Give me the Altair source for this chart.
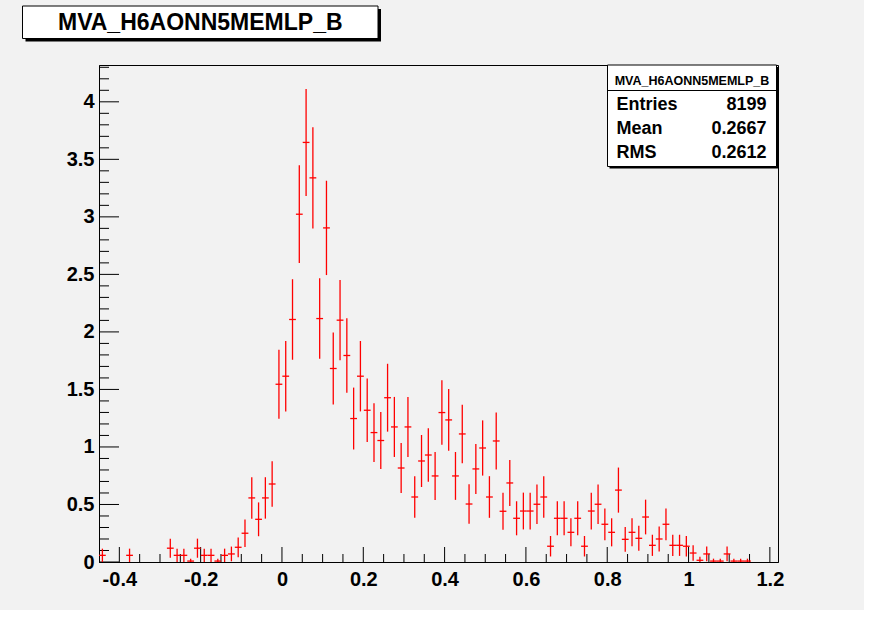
import altair as alt
import pandas as pd

# ---------------- data ----------------
XMIN, XMAX = -0.45, 1.22
NBINS = 100
YMAX = 4.32

bin_values = [
    0.058, 0, 0, 0, 0.058, 0, 0, 0, 0, 0,
    0.12, 0.058, 0.058, 0.008, 0.12, 0.058, 0.058, 0.008, 0.058, 0.07,
    0.128, 0.25, 0.557, 0.371, 0.557, 0.678, 1.545, 1.615, 2.108, 3.023,
    3.647, 3.339, 2.116, 2.904, 1.682, 2.102, 1.795, 1.247, 1.615, 1.319,
    1.125, 1.056, 1.428, 1.174, 0.817, 1.174, 0.565, 0.878, 0.93, 0.748,
    1.299, 1.235, 0.748, 1.113, 0.504, 0.809, 0.991, 0.565, 1.052, 0.441,
    0.687, 0.38, 0.443, 0.443, 0.502, 0.565, 0.137, 0.38, 0.38, 0.258,
    0.38, 0.137, 0.443, 0.502, 0.328, 0.258, 0.625, 0.197, 0.258, 0.206,
    0.391, 0.145, 0.2, 0.328, 0.145, 0.145, 0.137, 0.078, 0.015, 0.07,
    0.008, 0.008, 0.07, 0.008, 0.008, 0.008, 0, 0, 0, 0,
]
bin_errors = [
    0.058, 0, 0, 0, 0.058, 0, 0, 0, 0, 0,
    0.083, 0.058, 0.058, 0.021, 0.083, 0.058, 0.058, 0.021, 0.058, 0.064,
    0.086, 0.12, 0.18, 0.147, 0.18, 0.198, 0.299, 0.306, 0.35, 0.425,
    0.465, 0.44, 0.35, 0.41, 0.312, 0.349, 0.323, 0.269, 0.306, 0.277,
    0.255, 0.247, 0.295, 0.261, 0.218, 0.261, 0.181, 0.226, 0.232, 0.208,
    0.28, 0.268, 0.208, 0.254, 0.171, 0.217, 0.24, 0.181, 0.247, 0.16,
    0.2, 0.148, 0.16, 0.16, 0.171, 0.181, 0.089, 0.148, 0.148, 0.122,
    0.148, 0.089, 0.16, 0.171, 0.138, 0.122, 0.196, 0.107, 0.122, 0.109,
    0.151, 0.092, 0.108, 0.138, 0.092, 0.092, 0.089, 0.067, 0.03, 0.064,
    0.021, 0.021, 0.064, 0.021, 0.021, 0.021, 0, 0, 0, 0,
]

x_labels = [-0.4, -0.2, 0, 0.2, 0.4, 0.6, 0.8, 1.0, 1.2]
x_minor = [-0.35, -0.3, -0.25, -0.15, -0.1, -0.05, 0.05, 0.1, 0.15, 0.25, 0.3,
           0.35, 0.45, 0.5, 0.55, 0.65, 0.7, 0.75, 0.85, 0.9, 0.95, 1.05,
           1.1, 1.15]
y_labels = [0, 0.5, 1, 1.5, 2, 2.5, 3, 3.5, 4]
y_minor = [0.1, 0.2, 0.3, 0.4, 0.6, 0.7, 0.8, 0.9, 1.1, 1.2, 1.3, 1.4, 1.6,
           1.7, 1.8, 1.9, 2.1, 2.2, 2.3, 2.4, 2.6, 2.7, 2.8, 2.9, 3.1, 3.2,
           3.3, 3.4, 3.6, 3.7, 3.8, 3.9, 4.1, 4.2, 4.3]

hist_name = "MVA_H6AONN5MEMLP_B"
stat_labels = ["Entries", "Mean", "RMS"]
stat_values = ["8199", "0.2667", "0.2612"]

# ---------------- layout ----------------
W, H = 679, 497
FONT = "Liberation Sans"
BG = "#f2f2f2"

bw = (XMAX - XMIN) / NBINS
rows = []
for i, (v, e) in enumerate(zip(bin_values, bin_errors)):
    lo = XMIN + i * bw
    rows.append(dict(lo=lo, hi=lo + bw, c=lo + bw / 2, v=v,
                     ylo=max(v - e, 0), yhi=v + e))
hist = pd.DataFrame(rows)

xs = alt.Scale(domain=[XMIN, XMAX], nice=False, zero=False)
ys = alt.Scale(domain=[0, YMAX], nice=False, zero=True)

xaxis = alt.Axis(values=x_labels, tickSize=0, grid=False, title=None,
                 labelFont=FONT, labelFontSize=20, labelFontWeight="bold",
                 labelColor="black", labelPadding=7, labelFlush=False,
                 labelOverlap=False, domainColor="black",
                 labelExpr="datum.value < 0 ? '-' + format(-datum.value, '~g') : format(datum.value, '~g')")
yaxis = alt.Axis(values=y_labels, tickSize=0, grid=False, title=None,
                 labelFont=FONT, labelFontSize=20, labelFontWeight="bold",
                 labelColor="black", labelPadding=5, labelFlush=False,
                 labelOverlap=False, domainColor="black",
                 labelExpr="format(datum.value, '~g')")

base = alt.Chart(hist).transform_filter("datum.v > 0")

hbars = base.mark_rule(color="#ff0000", strokeWidth=1.3).encode(
    x=alt.X("lo:Q", scale=xs, axis=xaxis), x2="hi:Q",
    y=alt.Y("v:Q", scale=ys, axis=yaxis))
vbars = base.mark_rule(color="#ff0000", strokeWidth=1.3).encode(
    x=alt.X("c:Q", scale=xs), y=alt.Y("ylo:Q", scale=ys), y2="yhi:Q")

def xticks(vals, length):
    return alt.Chart(pd.DataFrame({"t": vals})).mark_rule(
        color="black", strokeWidth=1).encode(
        x=alt.X("t:Q", scale=xs), y=alt.value(H), y2=alt.value(H - length))

def yticks(vals, length):
    return alt.Chart(pd.DataFrame({"t": vals})).mark_rule(
        color="black", strokeWidth=1).encode(
        y=alt.Y("t:Q", scale=ys), x=alt.value(0), x2=alt.value(length))

one = pd.DataFrame({"a": [0]})

def rect(x1, y1, x2, y2, fill, stroke=None):
    kw = dict(fill=fill)
    if stroke:
        kw.update(stroke=stroke, strokeWidth=1)
    return alt.Chart(one).mark_rect(**kw).encode(
        x=alt.value(x1), x2=alt.value(x2), y=alt.value(y1), y2=alt.value(y2))

def text(s, x, y, size, align="left"):
    return alt.Chart(one).mark_text(
        text=s, font=FONT, fontSize=size, fontWeight="bold", color="black",
        align=align, baseline="middle").encode(x=alt.value(x), y=alt.value(y))

# title box (top-left)
tb = [-76.5, -59, 279, -26.5]
title_layers = [
    rect(tb[0] + 3, tb[1] + 3, tb[2] + 3, tb[3] + 3, "black"),
    rect(tb[0], tb[1], tb[2], tb[3], "white", "black"),
    text(hist_name, (tb[0] + tb[2]) / 2, (tb[1] + tb[3]) / 2 + 1, 23, "center"),
]

# stats box (top-right)
sb = [508.5, 0, 677.5, 101.5]
stat_layers = [
    rect(sb[0] + 2, sb[1] + 2, sb[2] + 2, sb[3] + 2, "black"),
    rect(sb[0], sb[1], sb[2], sb[3], "white", "black"),
    alt.Chart(one).mark_rule(color="black", strokeWidth=1).encode(
        x=alt.value(sb[0]), x2=alt.value(sb[2]), y=alt.value(25.5)),
    text(hist_name, (sb[0] + sb[2]) / 2, 15.5, 12.5, "center"),
]
for k, (lab, val) in enumerate(zip(stat_labels, stat_values)):
    yy = 39.5 + k * 24.2
    stat_layers.append(text(lab, sb[0] + 9, yy, 18, "left"))
    stat_layers.append(text(val, sb[2] - 10, yy, 18, "right"))

chart = alt.layer(
    xticks(x_minor, 8), xticks(x_labels, 15),
    yticks(y_minor, 10), yticks(y_labels, 20),
    hbars, vbars,
    *title_layers, *stat_layers,
).properties(
    width=W, height=H,
    autosize=alt.AutoSizeParams(type="none"),
    padding={"left": 99, "top": 65, "right": 86, "bottom": 48},
    background=BG,
).configure_view(stroke="black", strokeWidth=1, fill=BG)

chart.save("out.html", embed_options={"renderer": "svg", "actions": False})
